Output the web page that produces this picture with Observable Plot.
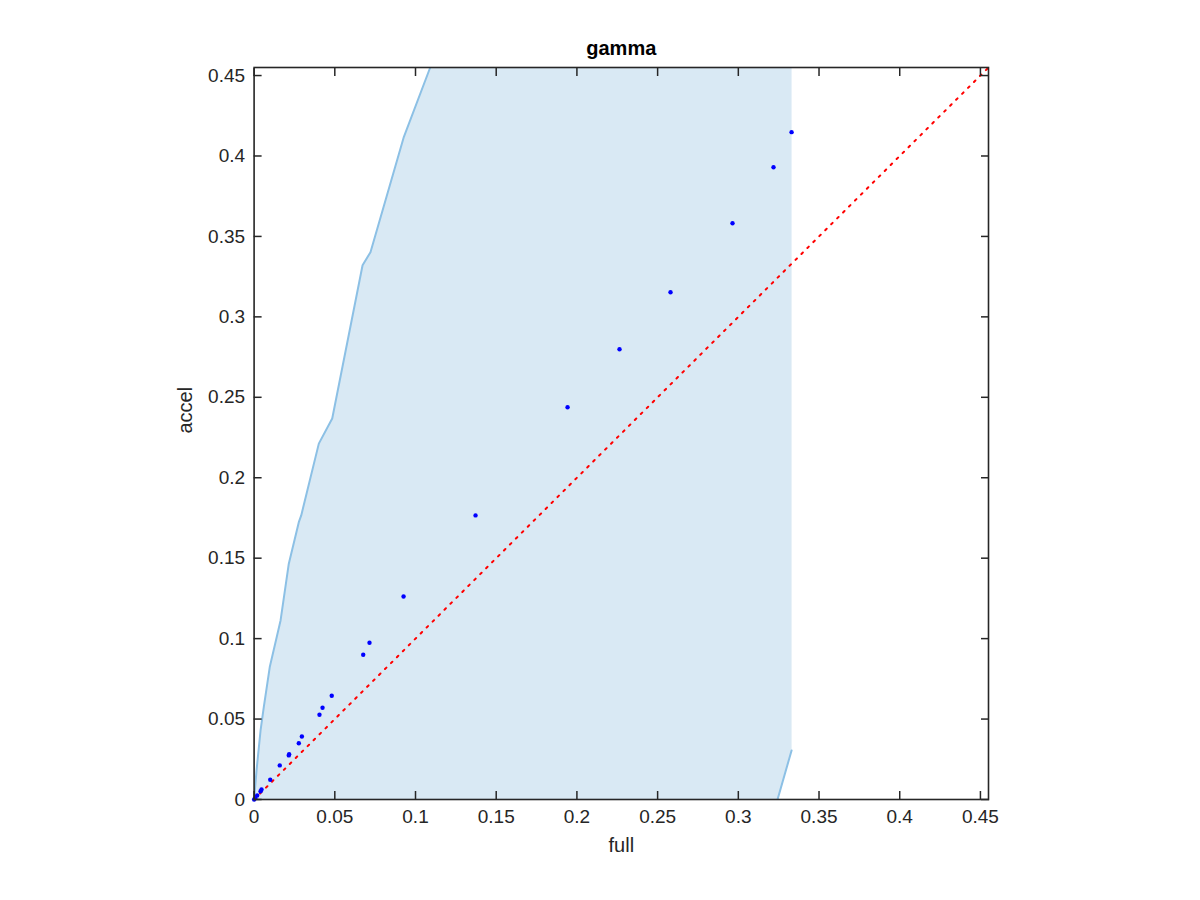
<!DOCTYPE html>
<html><head><meta charset="utf-8">
<script src="https://cdn.jsdelivr.net/npm/d3@7"></script>
<script src="https://cdn.jsdelivr.net/npm/@observablehq/plot@0.6"></script>
<style>body{margin:0;background:#fff}</style>
</head><body><div id="chart"></div>
<script>
// Scatter data: accel vs full
const fullVals  = [0, 0.0007, 0.0019, 0.0040, 0.0046, 0.0100, 0.0159, 0.0215, 0.0217, 0.0277, 0.0296, 0.0405, 0.0424, 0.0481, 0.0676, 0.0715, 0.0926, 0.1372, 0.1942, 0.2264, 0.2580, 0.2964, 0.3218, 0.3330];
const accelVals = [0, 0.0008, 0.0025, 0.0051, 0.0062, 0.0123, 0.0212, 0.0274, 0.0282, 0.0350, 0.0392, 0.0527, 0.0570, 0.0645, 0.0900, 0.0974, 0.1262, 0.1766, 0.2438, 0.2799, 0.3153, 0.3582, 0.3930, 0.4148];

// Upper (left) boundary of shaded region
const boundFull  = [0, 0.0015, 0.0040, 0.0060, 0.0097, 0.0164, 0.0215, 0.0277, 0.0292, 0.0401, 0.0484, 0.0672, 0.0721, 0.0928, 0.1091];
const boundAccel = [0, 0.0180, 0.0429, 0.0574, 0.0823, 0.1113, 0.1466, 0.1724, 0.1766, 0.2212, 0.2368, 0.3321, 0.3402, 0.4119, 0.4550];

// Lower-right boundary segment
const tailFull  = [0.3330, 0.3243];
const tailAccel = [0.0305, 0];

const axisMax = 0.455;
const tickVals = [0, 0.05, 0.1, 0.15, 0.2, 0.25, 0.3, 0.35, 0.4, 0.45];
const tickLabels = ["0", "0.05", "0.1", "0.15", "0.2", "0.25", "0.3", "0.35", "0.4", "0.45"];

const scatter = fullVals.map((f, i) => ({full: f, accel: accelVals[i]}));
const boundary = boundFull.map((f, i) => ({full: f, accel: boundAccel[i]}));
const tail = tailFull.map((f, i) => ({full: f, accel: tailAccel[i]}));
const polygon = [
  ...boundary,
  {full: tailFull[0], accel: axisMax},
  ...tail
];
const diag = [0, axisMax];
const fmt = d => tickLabels[tickVals.indexOf(d)] ?? "";

const font = "Liberation Sans, Helvetica, Arial, sans-serif";
const txt = "#262626";
const fillC = "#d9e9f4";
const lineC = "#8cc0e5";

const chart = Plot.plot({
  width: 1200, height: 900,
  marginLeft: 253.6, marginRight: 212, marginTop: 67, marginBottom: 101,
  style: {fontFamily: font, fontSize: "19px", color: txt, background: "#fff"},
  x: {domain: [0, axisMax], ticks: tickVals},
  y: {domain: [0, axisMax], ticks: tickVals},
  marks: [
    Plot.line(polygon, {x: "full", y: "accel", fill: fillC, stroke: "none", clip: true}),
    Plot.line(boundary, {x: "full", y: "accel", stroke: lineC, strokeWidth: 2, clip: true}),
    Plot.line(tail, {x: "full", y: "accel", stroke: lineC, strokeWidth: 2, clip: true}),
    Plot.line(diag, {x: d => d, y: d => d, stroke: "#ff0000", strokeWidth: 2, strokeDasharray: "2,6.4", clip: true}),
    Plot.dot(scatter, {x: "full", y: "accel", r: 2.2, fill: "#0000ff", stroke: "none"}),
    Plot.frame({stroke: txt, strokeWidth: 1.6}),
    Plot.axisX(tickVals, {anchor: "bottom", tickSize: -8, tickPadding: 18, tickFormat: fmt, label: null, stroke: txt, strokeWidth: 1.5, fill: txt, fontSize: 19}),
    Plot.axisX(tickVals, {anchor: "top", tickSize: -8, tickFormat: () => "", label: null, stroke: txt, strokeWidth: 1.5}),
    Plot.axisY(tickVals, {anchor: "left", tickSize: -8, tickPadding: 17, tickFormat: fmt, label: null, stroke: txt, strokeWidth: 1.5, fill: txt, fontSize: 19}),
    Plot.axisY(tickVals, {anchor: "right", tickSize: -8, tickFormat: () => "", label: null, stroke: txt, strokeWidth: 1.5}),
    Plot.text(["gamma"], {frameAnchor: "top", dy: -27, text: d => d, fontWeight: "bold", fontSize: 20, fill: "#000"}),
    Plot.text(["full"], {frameAnchor: "bottom", dy: 52, text: d => d, fontSize: 20, fill: txt}),
    Plot.text(["accel"], {frameAnchor: "left", dx: -69, rotate: -90, text: d => d, fontSize: 20, fill: txt})
  ]
});
document.getElementById("chart").appendChild(chart);
</script>
</body></html>
